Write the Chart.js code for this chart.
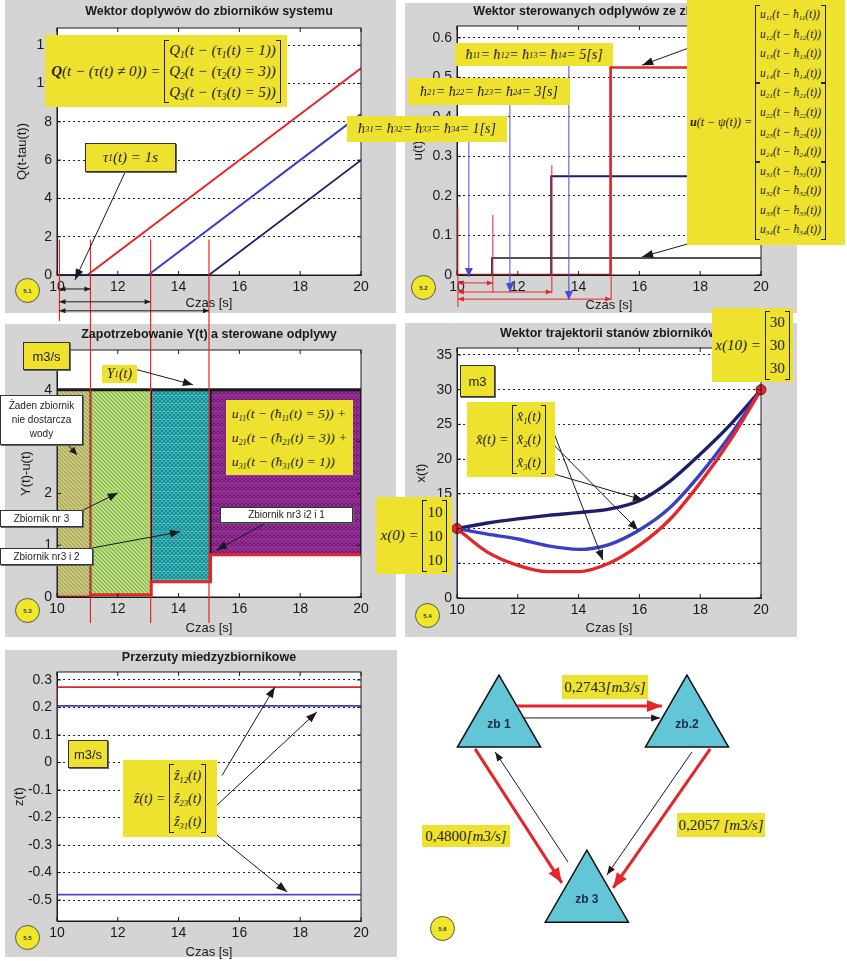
<!DOCTYPE html>
<html>
<head>
<meta charset="utf-8">
<title>Zbiorniki - przeplywy</title>
<script src="https://cdn.jsdelivr.net/npm/chart.js@4.4.1/dist/chart.umd.min.js"></script>
<style>
  body { margin: 0; background: #fff; }
  #page { position: relative; width: 847px; height: 961px; overflow: hidden; }
  canvas { position: absolute; }
  .b { position: absolute; box-sizing: border-box; background: #efe22e; display: flex; align-items: center; justify-content: center; white-space: nowrap; font-family: "Liberation Serif", "DejaVu Serif", serif; font-style: italic; color: #222; }
  .bd { border: 1px solid #333; box-shadow: 1px 1px 0 #666; }
  .s { font-family: "Liberation Sans", Arial, sans-serif; font-style: normal; }
  .w { background: #fff; font-family: "Liberation Sans", Arial, sans-serif; font-style: normal; font-size: 10px; text-align: center; line-height: 14px; }
  .m { display: inline-flex; flex-direction: column; position: relative; border-left: 1px solid #222; border-right: 1px solid #222; padding: 0 4px; }
  .m::before, .m::after { content: ""; position: absolute; top: 0; bottom: 0; width: 4px; border-top: 1px solid #222; border-bottom: 1px solid #222; }
  .m::before { left: 0; }
  .m::after { right: 0; }
  .col { display: flex; flex-direction: column; }
  .n { font-style: normal; }
  sub { font-size: 62%; vertical-align: -0.3em; line-height: 0; }
  .c { position: absolute; width: 25px; height: 25px; box-sizing: border-box; border-radius: 50%; background: #f0e62a; border: 1px solid #555; font: bold 6px "Liberation Sans", Arial, sans-serif; display: flex; align-items: center; justify-content: center; color: #333; }
</style>
</head>
<body>
<div id="page">
  <canvas id="c1" width="400" height="321" style="left:0;top:0"></canvas>
  <canvas id="c2" width="447" height="321" style="left:400px;top:0"></canvas>
  <canvas id="c3" width="400" height="321" style="left:0;top:321px"></canvas>
  <canvas id="c4" width="447" height="321" style="left:400px;top:321px"></canvas>
  <canvas id="c5" width="400" height="319" style="left:0;top:642px"></canvas>
  <canvas id="c6" width="447" height="319" style="left:400px;top:642px"></canvas>

  <!-- 5.1 -->
  <div class="b" style="left:45px;top:35px;width:242px;height:72px;font-size:15px">
    <span><b>Q</b>(t − (τ(t) ≠ 0)) =&nbsp;</span>
    <span class="m" style="line-height:21px"><span>Q<sub>1</sub>(t − (τ<sub>1</sub>(t) = 1))</span><span>Q<sub>2</sub>(t − (τ<sub>2</sub>(t) = 3))</span><span>Q<sub>3</sub>(t − (τ<sub>3</sub>(t) = 5))</span></span>
  </div>
  <div class="b bd" style="left:85px;top:143px;width:91px;height:29px;font-size:15px">τ<sub>1</sub>(t) = 1s</div>

  <!-- 5.2 -->
  <div class="b" style="left:455px;top:43px;width:158px;height:23px;font-size:14px">ħ<sub>11</sub> = ħ<sub>12</sub> = ħ<sub>13</sub> = ħ<sub>14</sub> = 5[s]</div>
  <div class="b" style="left:408px;top:78px;width:162px;height:27px;font-size:14px">ħ<sub>21</sub> = ħ<sub>22</sub> = ħ<sub>23</sub> = ħ<sub>24</sub> = 3[s]</div>
  <div class="b" style="left:347px;top:116px;width:160px;height:26px;font-size:14px">ħ<sub>31</sub> = ħ<sub>32</sub> = ħ<sub>33</sub> = ħ<sub>34</sub> = 1[s]</div>
  <div class="b" style="left:687px;top:0;width:158px;height:245px;font-size:12px;justify-content:flex-start;padding-left:3px">
    <span><b>u</b>(t − ψ(t)) =&nbsp;</span>
    <span class="col" style="font-size:11.5px;line-height:19.6px">
      <span class="m"><span>u<sub>11</sub>(t − ħ<sub>11</sub>(t))</span><span>u<sub>12</sub>(t − ħ<sub>12</sub>(t))</span><span>u<sub>13</sub>(t − ħ<sub>13</sub>(t))</span><span>u<sub>14</sub>(t − ħ<sub>14</sub>(t))</span></span>
      <span class="m"><span>u<sub>21</sub>(t − ħ<sub>21</sub>(t))</span><span>u<sub>22</sub>(t − ħ<sub>22</sub>(t))</span><span>u<sub>23</sub>(t − ħ<sub>23</sub>(t))</span><span>u<sub>24</sub>(t − ħ<sub>24</sub>(t))</span></span>
      <span class="m"><span>u<sub>31</sub>(t − ħ<sub>31</sub>(t))</span><span>u<sub>32</sub>(t − ħ<sub>32</sub>(t))</span><span>u<sub>33</sub>(t − ħ<sub>33</sub>(t))</span><span>u<sub>34</sub>(t − ħ<sub>34</sub>(t))</span></span>
    </span>
  </div>

  <!-- 5.3 -->
  <div class="b bd s" style="left:23px;top:342px;width:47px;height:28px;font-size:13px">m3/s</div>
  <div class="b" style="left:102px;top:365px;width:35px;height:18px;font-size:14px">Y<sub>1</sub>(t)</div>
  <div class="b bd w" style="left:0;top:395px;width:83px;height:50px;flex-direction:column">Żaden zbiornik<br>nie dostarcza<br>wody</div>
  <div class="b bd w" style="left:0;top:510px;width:83px;height:17px">Zbiornik nr 3</div>
  <div class="b bd w" style="left:0;top:548px;width:93px;height:17px">Zbiornik nr3 i 2</div>
  <div class="b bd w" style="left:220px;top:507px;width:133px;height:16px">Zbiornik nr3 i2 i 1</div>
  <div class="b" style="left:226px;top:400px;width:127px;height:75px;font-size:13.5px;line-height:24px">
    <span class="col"><span>u<sub>11</sub>(t − (ħ<sub>11</sub>(t) = 5)) +</span><span>u<sub>21</sub>(t − (ħ<sub>21</sub>(t) = 3)) +</span><span>u<sub>31</sub>(t − (ħ<sub>31</sub>(t) = 1))</span></span>
  </div>

  <!-- 5.4 -->
  <div class="b bd s" style="left:460px;top:365px;width:35px;height:32px;font-size:13px">m3</div>
  <div class="b" style="left:467px;top:402px;width:88px;height:75px;font-size:14px">
    <span>x̂(t) =&nbsp;</span><span class="m" style="line-height:23px"><span>x̂<sub>1</sub>(t)</span><span>x̂<sub>2</sub>(t)</span><span>x̂<sub>3</sub>(t)</span></span>
  </div>
  <div class="b" style="left:712px;top:308px;width:81px;height:74px;font-size:15px">
    <span>x(10) =&nbsp;</span><span class="m n" style="line-height:23px"><span>30</span><span>30</span><span>30</span></span>
  </div>
  <div class="b" style="left:376px;top:497px;width:76px;height:77px;font-size:15px">
    <span>x(0) =&nbsp;</span><span class="m n" style="line-height:24px"><span>10</span><span>10</span><span>10</span></span>
  </div>

  <!-- 5.5 -->
  <div class="b bd s" style="left:68px;top:740px;width:40px;height:28px;font-size:13px">m3/s</div>
  <div class="b" style="left:123px;top:760px;width:94px;height:77px;font-size:14px">
    <span>ẑ(t) =&nbsp;</span><span class="m" style="line-height:23px"><span>ẑ<sub>12</sub>(t)</span><span>ẑ<sub>23</sub>(t)</span><span>ẑ<sub>31</sub>(t)</span></span>
  </div>

  <!-- 5.6 flow labels -->
  <div id="f0" class="b" style="left:562px;top:675px;width:86px;height:24px;font-size:15px"></div>
  <div id="f1" class="b" style="left:677px;top:813px;width:88px;height:24px;font-size:15px"></div>
  <div id="f2" class="b" style="left:422px;top:825px;width:88px;height:22px;font-size:15px"></div>

  <div class="c" style="left:15px;top:278px">5.1</div>
  <div class="c" style="left:411px;top:275px">5.2</div>
  <div class="c" style="left:15px;top:598px">5.3</div>
  <div class="c" style="left:415px;top:603px">5.4</div>
  <div class="c" style="left:15px;top:925px">5.5</div>
  <div class="c" style="left:430px;top:916px">5.6</div>
</div>

<script>
'use strict';

// 5.1 dopływy Q(t - tau)
const q1T = [11, 20];
const q1V = [0, 10.8];
const q2T = [10, 13, 20];
const q2V = [0, 0, 8.4];
const q3T = [10, 15, 20];
const q3V = [0, 0, 6.0];
const tauStarts = [10.08, 11.1, 13.08, 15.0];

// 5.2 sterowane odpływy u(t)
const u1T = [10, 15.05, 15.05, 20];
const u1V = [0, 0, 0.525, 0.525];
const u2T = [13.1, 13.1, 20];
const u2V = [0, 0.25, 0.25];
const u3T = [11.15, 11.15, 20];
const u3V = [0, 0.043, 0.043];

// 5.3 zapotrzebowanie Y(t) i suma odpływów
const demT = [10, 20];
const demV = [4, 4];
const segT = [10, 11.1, 13.1, 15.05, 20];
const segU = [0, 0.043, 0.293, 0.818];

// 5.4 trajektorie stanów
const xT = [10, 11, 12, 13, 14, 15, 16, 17, 18, 19, 20];
const x1V = [10, 10.8, 11.4, 11.9, 12.3, 12.8, 14.0, 16.8, 20.7, 25.0, 30];
const x2V = [10, 9.2, 8.5, 7.5, 7.0, 7.7, 9.8, 13.0, 17.8, 23.5, 30];
const x3V = [10, 6.6, 4.7, 3.8, 3.8, 5.0, 7.6, 11.3, 16.6, 22.8, 30];
const xEndT = [10, 20];
const xEndV = [10, 30];

// 5.5 przerzuty międzyzbiornikowe
const zT = [10, 20];
const z12 = 0.2743;
const z23 = 0.2057;
const z31 = -0.48;

// 5.6 schemat
const nodeNames = ['zb 1', 'zb.2', 'zb 3'];
const flowValues = [0.2743, 0.2057, 0.4800];

const RED = '#e3262a', BLUE = '#3b3fc4', NAVY = '#1e1e6e', INK = '#1a1a1a';
const GRAY = '#d4d4d4', ABLUE = '#4a4ad8';
const TICKF = { size: 14 };
const AXF = { size: 13 };

Chart.defaults.font.family = '"Liberation Sans", Arial, sans-serif';
Chart.defaults.color = INK;

const pts = (t, v) => t.map((x, i) => ({ x, y: v[i] }));
const line = (t, v, color, width, extra) => Object.assign({
  data: pts(t, v), borderColor: color, borderWidth: width, pointRadius: 0, fill: false
}, extra || {});

function arrow(ctx, x1, y1, x2, y2, o) {
  ctx.save();
  ctx.strokeStyle = ctx.fillStyle = o.color || INK;
  ctx.lineWidth = o.w || 1;
  ctx.beginPath(); ctx.moveTo(x1, y1); ctx.lineTo(x2, y2); ctx.stroke();
  const head = (ax, ay, bx, by) => {
    const a = Math.atan2(by - ay, bx - ax), L = o.hl || 9, W = o.hw || 3.5;
    ctx.beginPath();
    ctx.moveTo(bx, by);
    ctx.lineTo(bx - L * Math.cos(a) + W * Math.sin(a), by - L * Math.sin(a) - W * Math.cos(a));
    ctx.lineTo(bx - L * Math.cos(a) - W * Math.sin(a), by - L * Math.sin(a) + W * Math.cos(a));
    ctx.closePath(); ctx.fill();
  };
  if (o.head === 'end' || o.head === 'both') head(x1, y1, x2, y2);
  if (o.head === 'both') head(x2, y2, x1, y1);
  ctx.restore();
}

// per-canvas decoration: gray panel, axes box, title, annotation arrows (in data units)
const decos = {};
const deco = {
  id: 'deco',
  beforeDraw(chart) {
    const d = decos[chart.canvas.id];
    if (!d) return;
    const { ctx, chartArea: a } = chart;
    ctx.save();
    ctx.fillStyle = GRAY;
    ctx.fillRect(d.bg[0], d.bg[1], d.bg[2], d.bg[3]);
    ctx.fillStyle = '#fff';
    ctx.fillRect(a.left, a.top, a.right - a.left, a.bottom - a.top);
    ctx.restore();
  },
  afterDatasetsDraw(chart) {
    const d = decos[chart.canvas.id];
    if (!d) return;
    const { ctx, chartArea: a, scales } = chart;
    const xs = scales.x, ys = scales.y;
    ctx.save();
    ctx.strokeStyle = INK; ctx.lineWidth = 1;
    ctx.strokeRect(a.left, a.top, a.right - a.left, a.bottom - a.top);
    ctx.beginPath();
    xs.ticks.forEach(t => {
      const p = xs.getPixelForValue(t.value);
      ctx.moveTo(p, a.bottom); ctx.lineTo(p, a.bottom - 4);
      ctx.moveTo(p, a.top); ctx.lineTo(p, a.top + 4);
    });
    ys.ticks.forEach(t => {
      const p = ys.getPixelForValue(t.value);
      ctx.moveTo(a.left, p); ctx.lineTo(a.left + 4, p);
      ctx.moveTo(a.right, p); ctx.lineTo(a.right - 4, p);
    });
    ctx.stroke();
    (d.marks || []).forEach(m => {
      arrow(ctx, xs.getPixelForValue(m[0]), ys.getPixelForValue(m[1]),
        xs.getPixelForValue(m[2]), ys.getPixelForValue(m[3]), m[4]);
    });
    ctx.fillStyle = INK;
    ctx.font = 'bold 12.5px "Liberation Sans", Arial, sans-serif';
    ctx.textAlign = 'center'; ctx.textBaseline = 'middle';
    ctx.fillText(d.title, (a.left + a.right) / 2, d.titleY);
    ctx.restore();
  }
};
Chart.register(deco);

function hatch(bg, fg, cross) {
  const c = document.createElement('canvas');
  c.width = c.height = 8;
  const g = c.getContext('2d');
  g.fillStyle = bg; g.fillRect(0, 0, 8, 8);
  g.strokeStyle = fg; g.lineWidth = 1.3;
  g.beginPath();
  for (let k = -2; k <= 2; k++) {
    g.moveTo(k * 4, 0); g.lineTo(k * 4 + 8, 8);
    if (cross) { g.moveTo(k * 4 + 8, 0); g.lineTo(k * 4, 8); }
  }
  g.stroke();
  return g.createPattern(c, 'repeat');
}

function axisChart(id, w, h, area, yTitleX, xTitleY, y, yTitle, datasets) {
  const padLeft = yTitleX - 8;
  const yw = area.l - padLeft;
  const xh = xTitleY + 8 - area.b;
  return new Chart(document.getElementById(id), {
    type: 'line',
    data: { datasets },
    options: {
      responsive: false,
      animation: false,
      layout: { autoPadding: false, padding: { left: padLeft, top: area.t, right: w - area.r, bottom: h - area.b - xh } },
      plugins: { legend: { display: false }, tooltip: { enabled: false } },
      elements: { line: { tension: 0 }, point: { radius: 0 } },
      scales: {
        x: {
          type: 'linear', min: 10, max: 20,
          afterFit: s => { s.height = xh; },
          ticks: { stepSize: 2, padding: 4, font: TICKF, color: INK },
          grid: { display: false, drawTicks: false },
          border: { color: INK },
          title: { display: true, text: 'Czas [s]', font: AXF, color: INK, padding: 0 }
        },
        y: {
          type: 'linear', min: y.min, max: y.max,
          afterFit: s => { s.width = yw; },
          afterBuildTicks: s => {
            const list = [];
            for (let k = Math.ceil(y.min / y.step - 1e-9); k <= Math.floor(y.max / y.step + 1e-9); k++) {
              list.push({ value: Math.round(k * y.step * 1e6) / 1e6 });
            }
            s.ticks = list;
          },
          ticks: { stepSize: y.step, padding: 5, font: TICKF, color: INK },
          grid: { drawTicks: false, color: '#222', lineWidth: 1 },
          border: { color: INK, dash: [2, 3] },
          title: { display: true, text: yTitle, font: AXF, color: INK, padding: 0 }
        }
      }
    }
  });
}

// ---- 5.1 ----
decos.c1 = {
  bg: [5, 0, 391, 313], title: 'Wektor doplywów do zbiorników systemu', titleY: 12,
  marks: [
    ...tauStarts.map(t => [t, 1.85, t, -2.6, { color: RED, w: 1.2 }]),
    [tauStarts[0], -0.73, tauStarts[1], -0.73, { head: 'both', hl: 6, hw: 2.5 }],
    [tauStarts[0], -1.4, tauStarts[2], -1.4, { head: 'both', hl: 6, hw: 2.5 }],
    [tauStarts[0], -1.87, tauStarts[3], -1.87, { head: 'both', hl: 6, hw: 2.5 }],
    [12.24, 5.37, 10.59, -0.26, { head: 'end', hl: 11, hw: 4 }]
  ]
};
axisChart('c1', 400, 321, { l: 57, t: 28, r: 361, b: 275 }, 23, 303,
  { min: 0, max: 12.9, step: 2 }, 'Q(t-tau(t))', [
    line(q2T, q2V, BLUE, 2),
    line(q1T, q1V, RED, 2),
    line(q3T, q3V, NAVY, 1.8)
  ]);

// ---- 5.2 ----
decos.c2 = {
  bg: [5, 3, 392, 310], title: 'Wektor sterowanych odplywów ze zbiorników', titleY: 12,
  marks: [
    [10.03, 0.172, 10.03, -0.081, { color: RED, w: 1 }],
    [11.18, 0.152, 11.18, -0.043, { color: RED, w: 1 }],
    [13.12, 0.278, 13.12, -0.046, { color: RED, w: 1 }],
    [15.07, 0.544, 15.07, -0.063, { color: RED, w: 1 }],
    [10.03, -0.02, 11.18, -0.02, { color: RED, head: 'both', hl: 6, hw: 2.5 }],
    [10.03, -0.043, 13.12, -0.043, { color: RED, head: 'both', hl: 6, hw: 2.5 }],
    [10.03, -0.061, 15.07, -0.061, { color: RED, head: 'both', hl: 6, hw: 2.5 }],
    [10.39, 0.337, 10.39, -0.005, { color: ABLUE, head: 'end', hl: 9, hw: 4 }],
    [11.74, 0.43, 11.74, -0.043, { color: ABLUE, head: 'end', hl: 9, hw: 4 }],
    [13.68, 0.529, 13.68, -0.063, { color: ABLUE, head: 'end', hl: 9, hw: 4 }],
    [19.41, 0.625, 16.09, 0.531, { head: 'end', hl: 11, hw: 4 }],
    [19.54, 0.121, 16.09, 0.046, { head: 'end', hl: 11, hw: 4 }]
  ]
};
axisChart('c2', 447, 321, { l: 57, t: 26, r: 361, b: 275 }, 19, 305,
  { min: 0, max: 0.63, step: 0.1 }, 'u(t)', [
    line(u1T, u1V, RED, 2.6),
    line(u2T, u2V, NAVY, 2),
    line(u3T, u3V, INK, 1.6)
  ]);

// ---- 5.3 ----
const fills = [
  hatch('#9e9e9e', '#e6dd3c', false),
  hatch('#efe336', '#58b8b4', false),
  hatch('#3fcaca', '#238a92', true),
  hatch('#b23cb2', '#6e1d72', true)
];
const regions = segU.map((u, i) => line(
  [segT[i], segT[i], segT[i + 1], segT[i + 1]], [u, demV[0], demV[0], u], '#111', 1.5,
  { fill: { value: u }, backgroundColor: fills[i] }));
const sumT = [], sumV = [];
segU.forEach((u, i) => { sumT.push(segT[i], segT[i + 1]); sumV.push(u, u); });
decos.c3 = {
  bg: [5, 3, 391, 313], title: 'Zapotrzebowanie Y(t) a sterowane odplywy', titleY: 14,
  marks: [
    ...tauStarts.slice(1).map(t => [t, 5.4, t, -0.5, { color: RED, w: 1.2 }]),
    [12.63, 4.39, 14.47, 4.10, { head: 'end', hl: 10, hw: 4 }],
    [10.36, 2.94, 10.66, 2.74, { head: 'end', hl: 8, hw: 3.5 }],
    [10.86, 1.68, 12.0, 2.01, { head: 'end', hl: 10, hw: 4 }],
    [11.18, 0.95, 14.05, 1.26, { head: 'end', hl: 10, hw: 4 }],
    [16.94, 1.45, 15.26, 0.91, { head: 'end', hl: 10, hw: 4 }]
  ]
};
axisChart('c3', 400, 321, { l: 57, t: 29, r: 361, b: 276 }, 27, 307,
  { min: 0, max: 4.77, step: 1 }, 'Y(t)-u(t)', [
    line(demT, demV, INK, 3),
    line(sumT, sumV, RED, 3),
    ...regions
  ]);

// ---- 5.4 ----
decos.c4 = {
  bg: [5, 2, 392, 314], title: 'Wektor trajektorii stanów zbiorników', titleY: 13,
  marks: [
    [12.96, 26.35, 14.80, 5.47, { head: 'end', hl: 10, hw: 4 }],
    [12.96, 23.04, 15.95, 9.79, { head: 'end', hl: 10, hw: 4 }],
    [12.96, 18.14, 16.12, 14.11, { head: 'end', hl: 10, hw: 4 }]
  ]
};
axisChart('c4', 447, 321, { l: 57, t: 27, r: 361, b: 277 }, 22, 307,
  { min: 0, max: 36, step: 5 }, 'x(t)', [
    line(xEndT, xEndV, '#7a1010', 1, { showLine: false, pointRadius: 5, backgroundColor: RED, clip: false }),
    line(xT, x3V, RED, 3.4, { cubicInterpolationMode: 'monotone' }),
    line(xT, x2V, BLUE, 3.4, { cubicInterpolationMode: 'monotone' }),
    line(xT, x1V, NAVY, 3.4, { cubicInterpolationMode: 'monotone' }),
    line([xT[0], xT[0]], [0, x2V[0]], BLUE, 2)
  ]);

// ---- 5.5 ----
decos.c5 = {
  bg: [5, 8, 392, 307], title: 'Przerzuty miedzyzbiornikowe', titleY: 16,
  marks: [
    [15.43, -0.047, 17.17, 0.275, { head: 'end', hl: 11, hw: 4 }],
    [15.26, -0.155, 18.55, 0.184, { head: 'end', hl: 11, hw: 4 }],
    [14.97, -0.238, 17.57, -0.471, { head: 'end', hl: 11, hw: 4 }]
  ]
};
axisChart('c5', 400, 319, { l: 57, t: 30, r: 361, b: 279 }, 20, 310,
  { min: -0.576, max: 0.329, step: 0.1 }, 'z(t)', [
    line([zT[0], zT[0], zT[1]], [z23, z12, z12], RED, 1.8),
    line(zT, [z23, z23], BLUE, 1.8),
    line([zT[0], zT[0], zT[1]], [z23, z31, z31], '#4a4ab0', 1.8)
  ]);

// ---- 5.6 schemat zbiorników ----
// layout of the diagram, in the hidden 0..10 units of the panel
const nodeX = [2.215, 6.42, 4.18];
const nodeY = [7.46, 7.46, 1.97];
const flowPaths = [
  [2.62, 7.99, 5.86, 7.99, RED, 3],
  [2.75, 7.62, 5.82, 7.62, INK, 1],
  [1.68, 6.65, 3.62, 2.45, RED, 3],
  [3.76, 3.10, 2.13, 6.55, INK, 1],
  [6.53, 6.55, 4.63, 2.70, INK, 1],
  [6.94, 6.65, 4.77, 2.29, RED, 3]
];
const fmt = v => v.toFixed(4).replace('.', ',');
document.getElementById('f0').innerHTML = '<span class="n">' + fmt(flowValues[0]) + '</span>[m3/s]';
document.getElementById('f1').innerHTML = '<span class="n">' + fmt(flowValues[1]) + '</span>&nbsp;[m3/s]';
document.getElementById('f2').innerHTML = '<span class="n">' + fmt(flowValues[2]) + '</span>[m3/s]';

const heads = {
  id: 'heads',
  afterDatasetsDraw(chart) {
    const ctx = chart.ctx;
    chart.data.datasets.forEach((ds, i) => {
      if (!ds.arrow) return;
      const p = chart.getDatasetMeta(i).data;
      const big = ds.borderWidth > 2;
      arrow(ctx, p[0].x, p[0].y, p[1].x, p[1].y,
        { color: ds.borderColor, w: 0.01, head: 'end', hl: big ? 15 : 9, hw: big ? 6 : 3.5 });
    });
    const nodes = chart.getDatasetMeta(chart.data.datasets.length - 1).data;
    ctx.save();
    ctx.fillStyle = '#1c2c4c';
    ctx.font = 'bold 12px "Liberation Sans", Arial, sans-serif';
    ctx.textAlign = 'center'; ctx.textBaseline = 'middle';
    nodes.forEach((p, i) => ctx.fillText(nodeNames[i], p.x, p.y + 2));
    ctx.restore();
  }
};

new Chart(document.getElementById('c6'), {
  type: 'scatter',
  data: {
    datasets: [
      ...flowPaths.map(f => ({
        data: [{ x: f[0], y: f[1] }, { x: f[2], y: f[3] }], showLine: true, arrow: true,
        borderColor: f[4], borderWidth: f[5], pointRadius: 0, clip: false
      })),
      {
        data: pts(nodeX, nodeY), pointStyle: 'triangle', pointRadius: 48,
        backgroundColor: '#62c6d6', borderColor: '#111', borderWidth: 1.5, clip: false
      }
    ]
  },
  options: {
    responsive: false,
    animation: false,
    layout: { autoPadding: false, padding: 0 },
    plugins: { legend: { display: false }, tooltip: { enabled: false } },
    scales: {
      x: { type: 'linear', min: 0, max: 10, display: false },
      y: { type: 'linear', min: 0, max: 10, display: false }
    }
  },
  plugins: [heads]
});
</script>
</body>
</html>
